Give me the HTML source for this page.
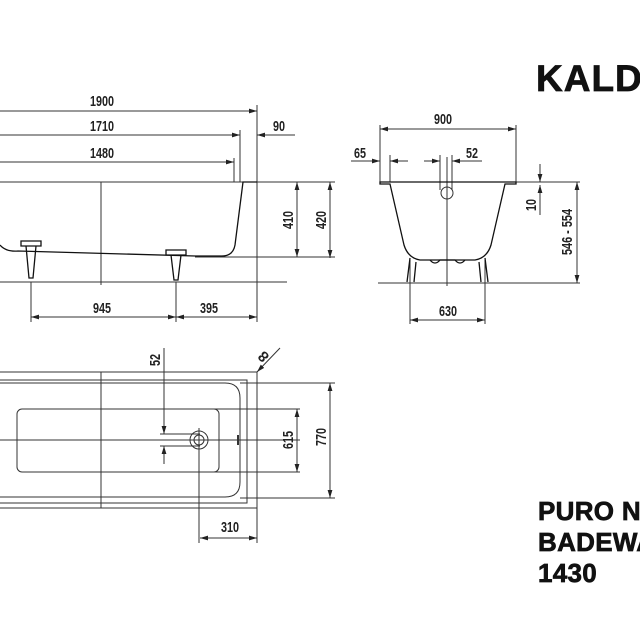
<!DOCTYPE html>
<html><head><meta charset="utf-8"><style>
html,body{margin:0;padding:0;background:#fff;width:640px;height:640px;overflow:hidden}
svg{display:block}
.d{font-family:"Liberation Sans",sans-serif;font-weight:bold;font-size:15px;fill:#222}
.t{font-family:"Liberation Sans",sans-serif;font-weight:bold;fill:#111;stroke:#111;stroke-width:0.7}
</style></head><body>
<svg width="640" height="640" viewBox="0 0 640 640" xmlns="http://www.w3.org/2000/svg">
<defs>
<marker id="a" viewBox="0 0 10 6" refX="10" refY="3" markerWidth="8" markerHeight="5" orient="auto-start-reverse" markerUnits="userSpaceOnUse"><path d="M0,0 L10,3 L0,6 z" fill="#222"/></marker>
</defs>
<g stroke="#333" stroke-width="1" fill="none">
<line x1="0" y1="111" x2="257" y2="111" marker-end="url(#a)"/>
<line x1="0" y1="135" x2="240" y2="135" marker-end="url(#a)"/>
<line x1="295" y1="135" x2="257" y2="135" marker-end="url(#a)"/>
<line x1="0" y1="162" x2="234" y2="162" marker-end="url(#a)"/>
<line x1="257" y1="105" x2="257" y2="322"/>
<line x1="240" y1="130" x2="240" y2="182"/>
<line x1="234" y1="158" x2="234" y2="182"/>
<line x1="0" y1="182" x2="335" y2="182"/>
<line x1="101" y1="182" x2="101" y2="285"/>
<line x1="0" y1="282" x2="287" y2="282"/>
<line x1="195" y1="257" x2="335" y2="257"/>
<line x1="297" y1="182" x2="297" y2="257" marker-start="url(#a)" marker-end="url(#a)"/>
<line x1="330" y1="182" x2="330" y2="258" marker-start="url(#a)" marker-end="url(#a)"/>
<line x1="31" y1="282" x2="31" y2="322"/>
<line x1="176" y1="282" x2="176" y2="322"/>
<line x1="31" y1="317" x2="176" y2="317" marker-start="url(#a)" marker-end="url(#a)"/>
<line x1="176" y1="317" x2="257" y2="317" marker-start="url(#a)" marker-end="url(#a)"/>
</g>
<g stroke="#111" stroke-width="1.3" fill="none">
<path d="M257,182 L243,182 L235,245 Q233,256 222,256 L195,256"/>
<path d="M0,245 Q6,252 18,251 L195,256"/>
<path d="M21,241 h20 v5 h-20z M26,246 l3,32 h4 l3,-32"/>
<path d="M166,250 h20 v5 h-20z M171,255 l3,25 h4 l3,-25"/>
</g>
<g stroke="#333" stroke-width="1" fill="none">
<line x1="380" y1="125" x2="380" y2="182"/>
<line x1="516" y1="125" x2="516" y2="182"/>
<line x1="380" y1="129" x2="516" y2="129" marker-start="url(#a)" marker-end="url(#a)"/>
<line x1="351" y1="161" x2="380" y2="161" marker-end="url(#a)"/>
<line x1="408" y1="161" x2="390" y2="161" marker-end="url(#a)"/>
<line x1="390" y1="155" x2="390" y2="182"/>
<line x1="424" y1="161" x2="440" y2="161" marker-end="url(#a)"/>
<line x1="482" y1="161" x2="452" y2="161" marker-end="url(#a)"/>
<line x1="440" y1="155" x2="440" y2="190"/>
<line x1="452" y1="155" x2="452" y2="190"/>
<line x1="447" y1="157" x2="447" y2="286"/>
<line x1="516" y1="182" x2="580" y2="182"/>
<line x1="378" y1="283" x2="580" y2="283"/>
<line x1="540" y1="164" x2="540" y2="182" marker-end="url(#a)"/>
<line x1="540" y1="215" x2="540" y2="185" marker-end="url(#a)"/>
<line x1="577" y1="182" x2="577" y2="283" marker-start="url(#a)" marker-end="url(#a)"/>
<line x1="410" y1="260" x2="410" y2="324"/>
<line x1="485" y1="260" x2="485" y2="324"/>
<line x1="410" y1="320" x2="485" y2="320" marker-start="url(#a)" marker-end="url(#a)"/>
<circle cx="447" cy="193" r="6"/>
</g>
<g stroke="#111" stroke-width="1.3" fill="none">
<path d="M380,182 H516 V184 H505 L491,245 Q487,258 475,260 H420 Q408,258 404,245 L390,184 H380Z"/>
<path d="M410,258 L407,282 M416,262 L414,282 M485,258 L488,282 M479,262 L481,282 M430,260 q5,6 10,0 h15 q5,6 10,0"/>
</g>
<g stroke="#333" stroke-width="1" fill="none">
<line x1="0" y1="372" x2="257" y2="372"/>
<line x1="257" y1="372" x2="257" y2="543"/>
<line x1="0" y1="508" x2="257" y2="508"/>
<path d="M0,380 H247 V503 H0"/>
<path d="M0,383 H225 Q240,383 240,398 V482 Q240,497 225,497 H0"/>
<line x1="101" y1="372" x2="101" y2="508"/>
<rect x="17" y="409" width="202" height="63" rx="5"/>
<line x1="0" y1="440" x2="300" y2="440"/>
<line x1="240" y1="383" x2="335" y2="383"/>
<line x1="240" y1="498" x2="335" y2="498"/>
<line x1="188" y1="409" x2="300" y2="409"/>
<line x1="188" y1="472" x2="300" y2="472"/>
<line x1="297" y1="409" x2="297" y2="472" marker-start="url(#a)" marker-end="url(#a)"/>
<line x1="330" y1="383" x2="330" y2="498" marker-start="url(#a)" marker-end="url(#a)"/>
<line x1="164" y1="348" x2="164" y2="434" marker-end="url(#a)"/>
<line x1="164" y1="464" x2="164" y2="446" marker-end="url(#a)"/>
<line x1="160" y1="434" x2="200" y2="434"/>
<line x1="160" y1="446" x2="200" y2="446"/>
<line x1="199" y1="428" x2="199" y2="543"/>
<line x1="200" y1="538" x2="257" y2="538" marker-start="url(#a)" marker-end="url(#a)"/>
<line x1="280" y1="348" x2="257" y2="372" marker-end="url(#a)"/>
<circle cx="199" cy="440" r="9"/>
<circle cx="199" cy="440" r="5"/>
<line x1="238" y1="435" x2="238" y2="445" stroke-width="2"/>
</g>
<g class="d" text-anchor="middle">
<text x="102" y="106" textLength="24" lengthAdjust="spacingAndGlyphs">1900</text>
<text x="102" y="131" textLength="24" lengthAdjust="spacingAndGlyphs">1710</text>
<text x="102" y="158" textLength="24" lengthAdjust="spacingAndGlyphs">1480</text>
<text x="279" y="131" textLength="12" lengthAdjust="spacingAndGlyphs">90</text>
<text x="102" y="313" textLength="18" lengthAdjust="spacingAndGlyphs">945</text>
<text x="209" y="313" textLength="18" lengthAdjust="spacingAndGlyphs">395</text>
<text transform="translate(293,220) rotate(-90)" textLength="18" lengthAdjust="spacingAndGlyphs">410</text>
<text transform="translate(326,220) rotate(-90)" textLength="18" lengthAdjust="spacingAndGlyphs">420</text>
<text x="443" y="124" textLength="18" lengthAdjust="spacingAndGlyphs">900</text>
<text x="360" y="158" textLength="12" lengthAdjust="spacingAndGlyphs">65</text>
<text x="472" y="158" textLength="12" lengthAdjust="spacingAndGlyphs">52</text>
<text x="448" y="316" textLength="18" lengthAdjust="spacingAndGlyphs">630</text>
<text transform="translate(536,205) rotate(-90)" textLength="12" lengthAdjust="spacingAndGlyphs">10</text>
<text transform="translate(572,232) rotate(-90)" textLength="46" lengthAdjust="spacingAndGlyphs">546 - 554</text>
<text transform="translate(160,360) rotate(-90)" textLength="12" lengthAdjust="spacingAndGlyphs">52</text>
<text transform="translate(293,440) rotate(-90)" textLength="18" lengthAdjust="spacingAndGlyphs">615</text>
<text transform="translate(326,437) rotate(-90)" textLength="18" lengthAdjust="spacingAndGlyphs">770</text>
<text x="230" y="532" textLength="18" lengthAdjust="spacingAndGlyphs">310</text>
<text transform="translate(267,353) rotate(-135)">8</text>
</g>
<text class="t" x="536" y="91" font-size="37" letter-spacing="1">KALDEWEI</text>
<text class="t" x="538" y="520" font-size="26" letter-spacing="0.3">PURO NEO</text>
<text class="t" x="538" y="551" font-size="26" letter-spacing="0.3">BADEWANNE</text>
<text class="t" x="538" y="582" font-size="26" letter-spacing="0.3">1430</text>
</svg>
</body></html>
